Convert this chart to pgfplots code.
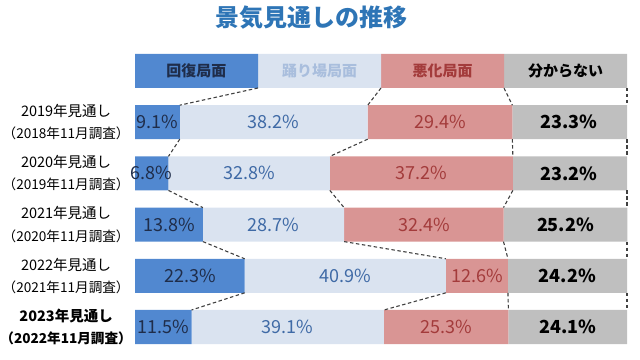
\documentclass[border=0pt]{standalone}
\usepackage{fontspec}
\setmainfont{Noto Sans CJK JP}
\usepackage{pgfplots}
\pgfplotsset{compat=1.18}
\usepackage{pgfplotstable}
\definecolor{cBlue}{HTML}{5188D0}
\definecolor{cLight}{HTML}{DAE3F0}
\definecolor{cRed}{HTML}{D99594}
\definecolor{cGray}{HTML}{BFBFBF}
\definecolor{tNavy}{HTML}{1F2D4A}
\definecolor{tBlue}{HTML}{3F6AA6}
\definecolor{tRed}{HTML}{A33B3B}
\definecolor{tHead}{HTML}{A9BEDD}
\definecolor{tTitle}{HTML}{2E75B6}
\definecolor{dashc}{HTML}{404040}
\pgfplotstableread{
y a b c d
5 25 25 25 25
4 9.1 38.2 29.4 23.3
3 6.8 32.8 37.2 23.2
2 13.8 28.7 32.4 25.2
1 22.3 40.9 12.6 24.2
0 11.5 39.1 25.3 24.1
}\data
\pgfplotsset{base/.style={at={(0,0)}, anchor=south west, scale only axis, width=492bp, height=307.2bp, xmin=0, xmax=100, ymin=-0.5, ymax=5.5, hide axis, clip=false}}
\tikzset{conn/.style={draw=dashc, dash pattern=on 3.5bp off 2.5bp, line width=1.1bp, mark=none}}
\newcommand{\pl}[1]{\fontsize{18bp}{21bp}\selectfont #1}
\newcommand{\hd}[1]{\fontsize{15bp}{18bp}\selectfont\bfseries #1}
\newcommand{\lb}[1]{\fontsize{14.5bp}{17bp}\selectfont #1}
\newcommand{\lc}[1]{\fontsize{13.6bp}{16bp}\selectfont #1}
\begin{document}
\begin{tikzpicture}
\path[use as bounding box] (-135bp,-7.4bp) rectangle (505bp,352.6bp);
\begin{axis}[base, xbar stacked, bar width=34bp]
\addplot[fill=cBlue, draw=none] table[x=a,y=y]{\data};
\addplot[fill=cLight, draw=none] table[x=b,y=y]{\data};
\addplot[fill=cRed, draw=none] table[x=c,y=y]{\data};
\addplot[fill=cGray, draw=none] table[x=d,y=y]{\data};
\end{axis}
\begin{axis}[base]
% header -> 2019
\addplot[conn] coordinates {(25,4.668) (9.1,4.332)};
\addplot[conn] coordinates {(50,4.668) (47.3,4.332)};
\addplot[conn] coordinates {(75,4.668) (76.7,4.332)};
\addplot[conn] coordinates {(100,4.668) (100,4.332)};
% 2019 -> 2020
\addplot[conn] coordinates {(9.1,3.668) (6.8,3.332)};
\addplot[conn] coordinates {(47.3,3.668) (39.6,3.332)};
\addplot[conn] coordinates {(76.7,3.668) (76.8,3.332)};
\addplot[conn] coordinates {(100,3.668) (100,3.332)};
% 2020 -> 2021
\addplot[conn] coordinates {(6.8,2.668) (13.8,2.332)};
\addplot[conn] coordinates {(39.6,2.668) (42.5,2.332)};
\addplot[conn] coordinates {(76.8,2.668) (74.9,2.332)};
\addplot[conn] coordinates {(100,2.668) (100,2.332)};
% 2021 -> 2022
\addplot[conn] coordinates {(13.8,1.668) (22.3,1.332)};
\addplot[conn] coordinates {(42.5,1.668) (63.2,1.332)};
\addplot[conn] coordinates {(74.9,1.668) (75.8,1.332)};
\addplot[conn] coordinates {(100,1.668) (100,1.332)};
% 2022 -> 2023
\addplot[conn] coordinates {(22.3,0.668) (11.5,0.332)};
\addplot[conn] coordinates {(63.2,0.668) (50.6,0.332)};
\addplot[conn] coordinates {(75.8,0.668) (75.9,0.332)};
\addplot[conn] coordinates {(100,0.668) (100,0.332)};
% title
\node[text=tTitle, font=\fontsize{24bp}{28bp}\selectfont\bfseries] at (axis cs:35.8,6.05) {景気見通しの推移};
% header
\node[text=tNavy] at (axis cs:12.5,5) {\hd{回復局面}};
\node[text=tHead] at (axis cs:37.5,5) {\hd{踊り場局面}};
\node[text=tRed] at (axis cs:62.5,5) {\hd{悪化局面}};
\node[text=black] at (axis cs:87.5,5) {\hd{分からない}};
% row labels
\node at (axis cs:-14.0,4.22) {\lb{2019年見通し}};
\node at (axis cs:-14.0,3.78) {\lc{（2018年11月調査）}};
\node at (axis cs:-14.0,3.22) {\lb{2020年見通し}};
\node at (axis cs:-14.0,2.78) {\lc{（2019年11月調査）}};
\node at (axis cs:-14.0,2.22) {\lb{2021年見通し}};
\node at (axis cs:-14.0,1.78) {\lc{（2020年11月調査）}};
\node at (axis cs:-14.0,1.22) {\lb{2022年見通し}};
\node at (axis cs:-14.0,0.78) {\lc{（2021年11月調査）}};
\node at (axis cs:-14.0,0.22) {\lb{\bfseries 2023年見通し}};
\node at (axis cs:-14.0,-0.22) {\lc{\bfseries （2022年11月調査）}};
% values
\node[text=tNavy] at (axis cs:4.55,4) {\pl{9.1\%}};
\node[text=tBlue] at (axis cs:28.2,4) {\pl{38.2\%}};
\node[text=tRed] at (axis cs:62.0,4) {\pl{29.4\%}};
\node[text=black] at (axis cs:88.2,4) {\pl{\bfseries 23.3\%}};
\node[text=tNavy] at (axis cs:3.4,3) {\pl{6.8\%}};
\node[text=tBlue] at (axis cs:23.2,3) {\pl{32.8\%}};
\node[text=tRed] at (axis cs:58.2,3) {\pl{37.2\%}};
\node[text=black] at (axis cs:88.2,3) {\pl{\bfseries 23.2\%}};
\node[text=tNavy] at (axis cs:6.9,2) {\pl{13.8\%}};
\node[text=tBlue] at (axis cs:28.15,2) {\pl{28.7\%}};
\node[text=tRed] at (axis cs:58.7,2) {\pl{32.4\%}};
\node[text=black] at (axis cs:87.5,2) {\pl{\bfseries 25.2\%}};
\node[text=tNavy] at (axis cs:11.15,1) {\pl{22.3\%}};
\node[text=tBlue] at (axis cs:42.75,1) {\pl{40.9\%}};
\node[text=tRed] at (axis cs:69.5,1) {\pl{12.6\%}};
\node[text=black] at (axis cs:87.9,1) {\pl{\bfseries 24.2\%}};
\node[text=tNavy] at (axis cs:5.75,0) {\pl{11.5\%}};
\node[text=tBlue] at (axis cs:31.05,0) {\pl{39.1\%}};
\node[text=tRed] at (axis cs:63.25,0) {\pl{25.3\%}};
\node[text=black] at (axis cs:87.95,0) {\pl{\bfseries 24.1\%}};
\end{axis}
\end{tikzpicture}
\end{document}
